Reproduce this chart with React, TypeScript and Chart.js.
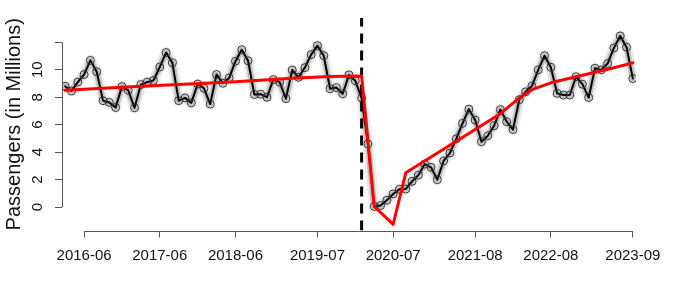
import React, { useEffect, useRef } from 'react';
import { Chart, registerables } from 'chart.js';

Chart.register(...registerables);

// ---- data ----
const startMonth = '2016-03';
const passengers = [
  8.8, 8.45, 9.1, 9.65, 10.68, 9.85, 7.75, 7.62, 7.25, 8.77, 8.5, 7.23,
  8.92, 9.1, 9.22, 10.2, 11.25, 10.5, 7.75, 7.95, 7.59, 8.96, 8.65, 7.5,
  9.65, 9.02, 9.4, 10.62, 11.45, 10.65, 8.2, 8.22, 8.0, 9.28, 9.1, 7.9,
  9.98, 9.45, 10.15, 11.1, 11.75, 11.02, 8.62, 8.7, 8.25, 9.62, 9.2, 7.94,
  4.6, 0.05, 0.12, 0.5, 0.96, 1.3, 1.32, 1.88, 2.33, 3.13, 2.9, 2.0,
  3.36, 3.94, 4.97, 6.1, 7.13, 6.34, 4.76, 5.19, 5.92, 7.1, 6.22, 5.65,
  7.82, 8.39, 8.81, 9.99, 11.02, 10.18, 8.28, 8.16, 8.16, 9.49, 8.95, 7.98,
  10.11, 9.99, 10.45, 11.59, 12.46, 11.64, 9.36,
];
const trendMonths = [
  '2016-03', '2016-12', '2017-09', '2018-06', '2019-03', '2019-09', '2020-02',
  '2020-03', '2020-04', '2020-07', '2020-09', '2021-12', '2022-03', '2022-05',
  '2022-08', '2023-01', '2023-06', '2023-09',
];
const trendValues = [
  8.5, 8.72, 8.92, 9.12, 9.38, 9.5, 9.55,
  4.8, 0.05, -1.25, 2.5, 6.8, 7.95, 8.55,
  9.05, 9.6, 10.15, 10.5,
];
const interventionMonth = '2020-02';
const xTickLabels = ['2016-06', '2017-06', '2018-06', '2019-07', '2020-07', '2021-08', '2022-08', '2023-09'];
const yTickValues = [0, 2, 4, 6, 8, 10, 12];
const yTickLabels = ['0', '2', '4', '6', '8', '10', ''];
const yTitle = 'Passengers (in Millions)';

// ---- helpers ----
const monthIndex = (s: string) => {
  const [y, m] = s.split('-').map(Number);
  return y * 12 + m - 1;
};
const base = monthIndex(startMonth);
const toX = (s: string) => monthIndex(s) - base;
const xTickValues = xTickLabels.map(toX);

const Y_MIN = -1.7;
const Y_MAX = 13.765;
const X_MIN = -0.5;
const X_MAX = passengers.length - 0.5;
const FONT = 'Liberation Sans, Arial, Helvetica, sans-serif';
const AXIS_COLOR = '#555';

const axisLines = {
  id: 'axisLines',
  afterDraw(chart: any) {
    const { ctx, chartArea, scales } = chart;
    const x = scales.x;
    const y = scales.y;
    ctx.save();
    ctx.strokeStyle = AXIS_COLOR;
    ctx.lineWidth = 1;
    const xb = Math.round(chartArea.bottom) + 0.5;
    const xa = x.getPixelForValue(x.ticks[0].value);
    const xz = x.getPixelForValue(x.ticks[x.ticks.length - 1].value);
    ctx.beginPath();
    ctx.moveTo(xa, xb);
    ctx.lineTo(xz, xb);
    ctx.stroke();
    const yl = Math.round(chartArea.left) + 0.5;
    const ya = y.getPixelForValue(y.ticks[0].value);
    const yz = y.getPixelForValue(y.ticks[y.ticks.length - 1].value);
    ctx.beginPath();
    ctx.moveTo(yl, ya);
    ctx.lineTo(yl, yz);
    ctx.stroke();
    ctx.restore();
  },
};

export default function App() {
  const ref = useRef<HTMLCanvasElement | null>(null);

  useEffect(() => {
    if (!ref.current) return;
    const seriesPts = passengers.map((v, i) => ({ x: i, y: v }));
    const trendPts = trendMonths.map((m, i) => ({ x: toX(m), y: trendValues[i] }));
    const xi = toX(interventionMonth);
    const chart = new Chart(ref.current, {
      type: 'line',
      data: {
        datasets: [
          {
            data: trendPts,
            borderColor: '#ff0000',
            borderWidth: 3,
            pointRadius: 0,
            tension: 0,
            borderJoinStyle: 'round',
            borderCapStyle: 'round',
            order: 0,
          },
          {
            data: [{ x: xi, y: Y_MIN }, { x: xi, y: Y_MAX }],
            borderColor: '#000',
            borderWidth: 3,
            borderDash: [10, 7],
            pointRadius: 0,
            order: 1,
          },
          {
            data: seriesPts,
            borderColor: '#000',
            borderWidth: 2,
            pointRadius: 4,
            pointBorderWidth: 1,
            pointBorderColor: '#333',
            pointBackgroundColor: 'rgba(0,0,0,0)',
            tension: 0,
            borderJoinStyle: 'round',
            borderCapStyle: 'round',
            order: 2,
          },
          {
            data: seriesPts,
            borderColor: 'rgba(140,140,140,0.45)',
            borderWidth: 6,
            pointRadius: 0,
            tension: 0,
            borderJoinStyle: 'round',
            borderCapStyle: 'round',
            order: 3,
          },
          {
            data: seriesPts,
            borderColor: 'rgba(180,180,180,0.25)',
            borderWidth: 11,
            pointRadius: 0,
            tension: 0,
            borderJoinStyle: 'round',
            borderCapStyle: 'round',
            order: 4,
          },
        ],
      } as any,
      options: {
        animation: false,
        responsive: false,
        layout: { padding: { top: 5, right: 42, bottom: 0, left: 0 } },
        plugins: {
          legend: { display: false },
          tooltip: { enabled: false },
        },
        scales: {
          x: {
            type: 'linear',
            min: X_MIN,
            max: X_MAX,
            border: { display: false },
            grid: {
              display: true,
              drawOnChartArea: false,
              drawTicks: true,
              tickLength: 7,
              color: AXIS_COLOR,
            },
            ticks: {
              autoSkip: false,
              maxRotation: 0,
              minRotation: 0,
              padding: 9,
              color: '#111',
              font: { size: 15, family: FONT },
              callback: (value: any) => {
                const i = xTickValues.indexOf(Number(value));
                return i >= 0 ? xTickLabels[i] : '';
              },
            },
            afterBuildTicks: (scale: any) => {
              scale.ticks = xTickValues.map((v) => ({ value: v }));
            },
            afterFit: (scale: any) => {
              scale.height = 62.5;
            },
          },
          y: {
            type: 'linear',
            min: Y_MIN,
            max: Y_MAX,
            border: { display: false },
            grid: {
              display: true,
              drawOnChartArea: false,
              drawTicks: true,
              tickLength: 7,
              color: AXIS_COLOR,
            },
            ticks: {
              minRotation: 90,
              maxRotation: 90,
              crossAlign: 'center',
              padding: 9,
              color: '#111',
              font: { size: 15, family: FONT },
              callback: (value: any) => {
                const i = yTickValues.indexOf(Number(value));
                return i >= 0 ? yTickLabels[i] : '';
              },
            },
            title: {
              display: true,
              text: yTitle,
              color: '#111',
              font: { size: 20, family: FONT },
              padding: { top: 2, bottom: 0 },
            },
            afterBuildTicks: (scale: any) => {
              scale.ticks = yTickValues.map((v) => ({ value: v }));
            },
            afterFit: (scale: any) => {
              scale.width = 62;
            },
          },
        },
      } as any,
      plugins: [axisLines],
    });
    return () => chart.destroy();
  }, []);

  return (
    <div style={{ position: 'absolute', left: 0, top: 0, width: 678, height: 293, background: '#fff' }}>
      <canvas ref={ref} width={678} height={293} style={{ display: 'block' }} />
    </div>
  );
}
